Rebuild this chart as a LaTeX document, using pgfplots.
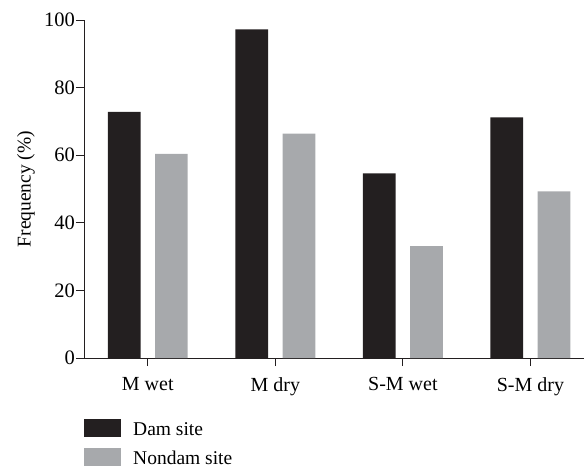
\documentclass[border=0pt]{standalone}
\usepackage{fontspec}
\setmainfont{Liberation Serif}
\usepackage{pgfplots}
\pgfplotsset{compat=1.18}
\definecolor{damc}{RGB}{35,31,32}
\definecolor{nondamc}{RGB}{167,169,172}
\begin{document}
\fontsize{19.5bp}{23bp}\selectfont
\begin{tikzpicture}
\useasboundingbox (-84bp,-110bp) rectangle (500bp,358bp);
\begin{axis}[
  scale only axis,
  width=500bp, height=338bp,
  ybar=14.5bp, bar width=32.7bp,
  axis lines*=left,
  axis line style={damc, line width=0.9bp},
  xmin=-0.5, xmax=3.42,
  ymin=0, ymax=100,
  ytick={0,20,...,100},
  xtick={0,1,2,3},
  xticklabels={M wet, M dry, S-M wet, S-M dry},
  tick align=outside,
  major tick length=8bp,
  tick style={damc, line width=0.9bp},
  /pgf/number format/assume math mode=true,
  ticklabel style={font=\fontsize{19.5bp}{23bp}\selectfont},
  yticklabel style={inner sep=1bp, font=\fontsize{20.5bp}{23bp}\selectfont},
  xticklabel style={yshift=-5bp, font=\fontsize{20bp}{23bp}\selectfont},
  ylabel={Frequency (\%)},
  every axis y label/.style={at={(axis description cs:0,0.5)}, xshift=-58bp, rotate=90, anchor=center},
  legend style={at={(axis description cs:0,0)}, anchor=north west, yshift=-61bp,
    draw=none, fill=none, inner sep=0pt, nodes={inner sep=0pt},
    row sep=10bp, column sep=12bp, cells={anchor=base west},
    font=\fontsize{19.5bp}{23bp}\selectfont},
  legend image code/.code={\fill[#1,draw=none] (0bp,-2bp) rectangle (37bp,16bp);},
]
\addplot[fill=damc, draw=none] coordinates {(0,72.8) (1,97.2) (2,54.6) (3,71.2)};
\addplot[fill=nondamc, draw=none] coordinates {(0,60.4) (1,66.4) (2,33.1) (3,49.3)};
\legend{Dam site, Nondam site}
\end{axis}
\end{tikzpicture}
\end{document}
